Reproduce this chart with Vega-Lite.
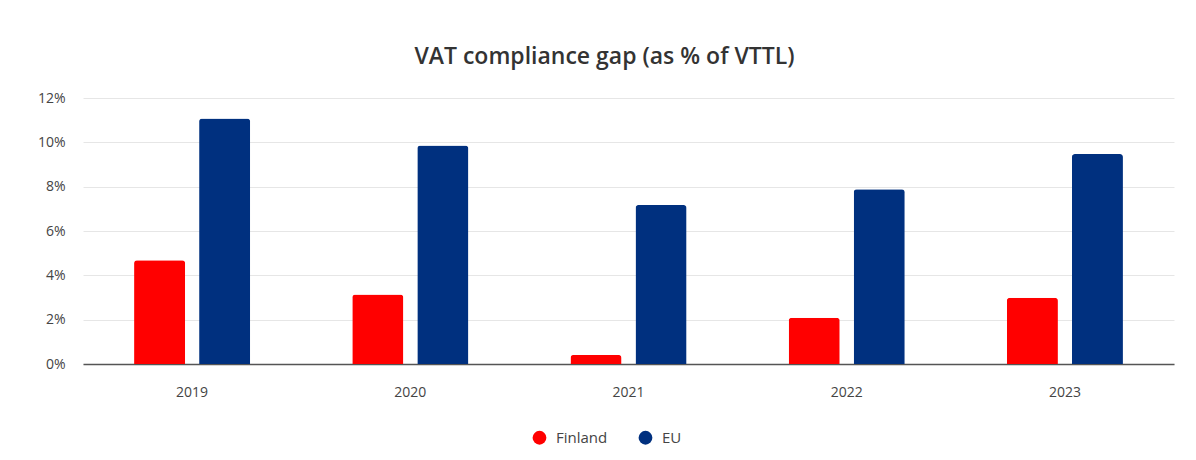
{
  "$schema": "https://vega.github.io/schema/vega-lite/v6.json",
  "autosize": {"type": "none"},
  "width": 1091,
  "height": 266,
  "padding": {"left": 83, "top": 98, "right": 22, "bottom": 96},
  "background": "white",
  "title": {
    "text": "VAT compliance gap (as % of VTTL)",
    "font": "Open Sans",
    "fontSize": 23,
    "fontWeight": 600,
    "color": "#333333",
    "anchor": "middle",
    "dx": -24,
    "offset": 22
  },
  "data": {
    "values": [
      {"year": "2019", "series": "Finland", "value": 4.68},
      {"year": "2019", "series": "EU", "value": 11.08},
      {"year": "2020", "series": "Finland", "value": 3.14},
      {"year": "2020", "series": "EU", "value": 9.86},
      {"year": "2021", "series": "Finland", "value": 0.41},
      {"year": "2021", "series": "EU", "value": 7.17},
      {"year": "2022", "series": "Finland", "value": 2.09},
      {"year": "2022", "series": "EU", "value": 7.88},
      {"year": "2023", "series": "Finland", "value": 2.99},
      {"year": "2023", "series": "EU", "value": 9.47}
    ]
  },
  "mark": {"type": "bar", "cornerRadiusTopLeft": 3, "cornerRadiusTopRight": 3},
  "encoding": {
    "x": {
      "field": "year",
      "type": "nominal",
      "scale": {"paddingInner": 0.468, "paddingOuter": 0.234},
      "axis": {
        "title": null,
        "labelAngle": 0,
        "ticks": false,
        "labelPadding": 21,
        "labelFont": "Open Sans",
        "labelFontSize": 14,
        "labelColor": "#444444",
        "domainColor": "#555555",
        "domainWidth": 1.5
      }
    },
    "xOffset": {
      "field": "series",
      "type": "nominal",
      "sort": ["Finland", "EU"],
      "scale": {"paddingInner": 0.215, "paddingOuter": 0}
    },
    "y": {
      "field": "value",
      "type": "quantitative",
      "scale": {"domain": [0, 12], "nice": false},
      "axis": {
        "title": null,
        "values": [0, 2, 4, 6, 8, 10, 12],
        "labelExpr": "datum.value + '%'",
        "ticks": false,
        "domain": false,
        "labelPadding": 18,
        "labelFont": "Open Sans",
        "labelFontSize": 14,
        "labelColor": "#444444",
        "gridColor": "#e6e6e6",
        "gridWidth": 1
      }
    },
    "color": {
      "field": "series",
      "type": "nominal",
      "sort": ["Finland", "EU"],
      "scale": {"domain": ["Finland", "EU"], "range": ["#ff0000", "#00307f"]},
      "legend": {
        "title": null,
        "orient": "none",
        "direction": "horizontal",
        "legendX": 449,
        "legendY": 332,
        "symbolType": "circle",
        "symbolSize": 190,
        "symbolStrokeWidth": 0,
        "labelFont": "Open Sans",
        "labelFontSize": 15,
        "labelColor": "#444444",
        "columnPadding": 30,
        "labelOffset": 9
      }
    }
  },
  "config": {
    "view": {"stroke": null}
  }
}
